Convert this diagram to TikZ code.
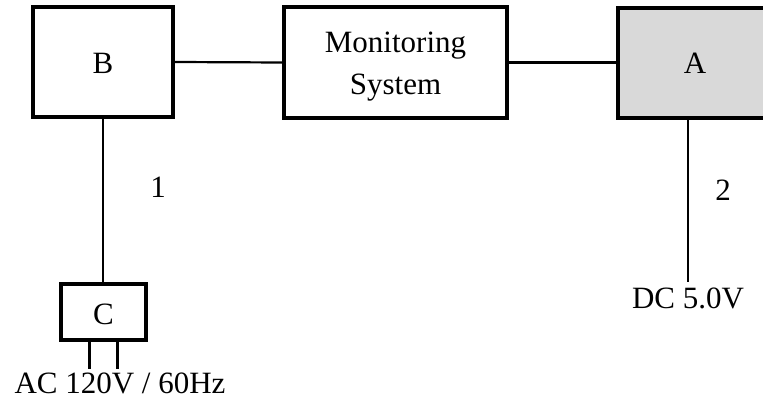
\documentclass[tikz,border=0pt]{standalone}
\usepackage{fontspec}
\setmainfont{Liberation Serif}
\begin{document}
\begin{tikzpicture}[x=1pt,y=-1pt,
  box/.style={draw=black,line width=3.2pt,minimum width=#1,inner sep=0pt},
  wire/.style={draw=black,line width=2.2pt},
  prong/.style={draw=black,line width=3pt},
  lab/.style={font=\fontsize{31}{42}\selectfont,inner sep=0pt,anchor=base,align=center}]
\useasboundingbox (0,0) rectangle (763,401);
% boxes
\node[box=140pt,minimum height=110pt] (B) at (103,62) {};
\node[box=223pt,minimum height=111pt] (M) at (395.5,62.5) {};
\node[box=154pt,minimum height=110pt,fill=black!15] (A) at (695,63) {};
\node[box=85pt,minimum height=56pt] (C) at (103.5,312) {};
% texts
\node[lab] (tB) at (103,74) {B};
\node[lab] (tM) at (395.5,95) {Monitoring\\System};
\node[lab] (tA) at (695,74) {A};
\node[lab] (tC) at (103.5,324) {C};
\node[lab] (t1) at (158,197) {1};
\node[lab] (t2) at (723,200) {2};
\node[lab] (tDC) at (688,308) {DC 5.0V};
\node[lab] (tAC) at (120,393) {AC 120V / 60Hz};
% connectors
\draw[wire] (B.east) -- (M.west);
\draw[wire] (M.east) -- (A.west |- M.east);
\draw[wire] (B.south) -- (C.north -| B.south);
\coordinate (dcEnd) at (688,282);
\draw[wire] (A.south -| dcEnd) -- (dcEnd);
\coordinate (p1) at (89,369);
\coordinate (p2) at (117,369);
\draw[prong] (C.south -| p1) -- (p1);
\draw[prong] (C.south -| p2) -- (p2);
\end{tikzpicture}
\end{document}
